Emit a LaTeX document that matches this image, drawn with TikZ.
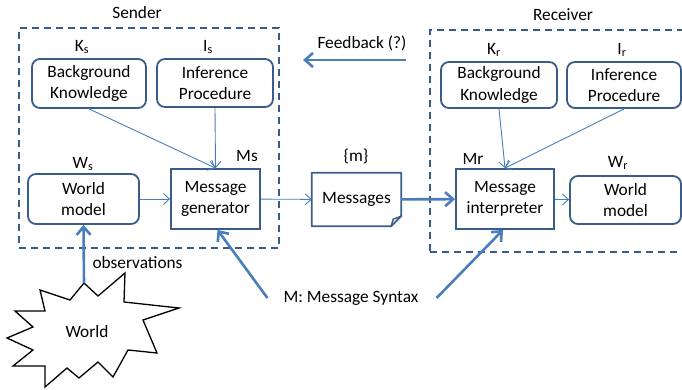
\documentclass[tikz,border=0pt]{standalone}
\usepackage{fontspec}
\setmainfont{Carlito}
\usetikzlibrary{arrows.meta}
\definecolor{boxblue}{RGB}{56,93,138}
\definecolor{linkblue}{RGB}{74,126,187}

\begin{document}
\begin{tikzpicture}[x=1pt,y=-1pt,
    font=\fontsize{17.3}{21.5}\selectfont,
    every node/.style={align=center, inner sep=0pt},
    soft/.style={draw=boxblue, line width=1.8pt, rounded corners=8pt},
    hard/.style={draw=boxblue, line width=1.8pt},
    frame/.style={draw=boxblue, line width=1.8pt, dash pattern=on 7pt off 5pt},
    link/.style={draw=linkblue, line width=0.9pt, -{Straight Barb[length=6pt,width=11pt]}},
    boldlink/.style={draw=linkblue, line width=2.6pt, -{Straight Barb[length=8pt,width=14pt]}}]
      \useasboundingbox (0,0) rectangle (682,390);

      \node[frame, minimum width=260pt, minimum height=220pt] (sendbox) at (149,138) {};
      \node[frame, minimum width=262pt, minimum height=222pt] (recvbox) at (561,141) {};
      \node (sender) at (137,13) {Sender};
      \node (receiver) at (563,15) {Receiver};

      \node[soft, minimum width=114pt, minimum height=49pt] (bks) at (89,83.5) {Background\\Knowledge};
      \node[soft, minimum width=116pt, minimum height=48pt] (ips) at (215,83) {Inference\\Procedure};
      \node[soft, minimum width=111pt, minimum height=50pt] (wms) at (83.5,199) {World\\model};
      \node[hard, minimum width=89pt, minimum height=60pt] (mgen) at (215.5,199) {Message\\generator};

      \node[minimum width=89pt, minimum height=53pt] (msgs) at (356.5,199.5) {Messages};
      \draw[boxblue, line width=1.8pt, line join=round] (msgs.north west) -- (msgs.north east)
        -- ([yshift=10pt]msgs.south east) -- ([xshift=-10pt]msgs.south east) -- (msgs.south west) -- cycle;
      \draw[boxblue, line width=1.5pt, line join=round] ([xshift=-10pt]msgs.south east)
        -- ([xshift=-8pt,yshift=7pt]msgs.south east) -- ([yshift=10pt]msgs.south east);

      \node[hard, minimum width=98pt, minimum height=60pt] (mint) at (505,199) {Message\\interpreter};
      \node[soft, minimum width=116pt, minimum height=46pt] (bkr) at (499,85) {Background\\Knowledge};
      \node[soft, minimum width=114pt, minimum height=46pt] (ipr) at (624,85) {Inference\\Procedure};
      \node[soft, minimum width=111pt, minimum height=48pt] (wmr) at (625.5,200) {World\\model};

      \node (ks) at (82,47) {K\textsubscript{s}};
      \node (is) at (208,47) {I\textsubscript{s}};
      \node (ws) at (83,164) {W\textsubscript{s}};
      \node (ms) at (247,156) {Ms};
      \node (m) at (356,156) {\{m\}};
      \node (mr) at (473,159) {Mr};
      \node (wr) at (618,163) {W\textsubscript{r}};
      \node (kr) at (494,50) {K\textsubscript{r}};
      \node (ir) at (622,50) {I\textsubscript{r}};

      \node (feedback) at (362,43) {Feedback (?)};
      \coordinate (fbstart) at (406,60);
      \coordinate (fbend) at (303,60);
      \draw[boldlink] (fbstart) -- (fbend);

      \draw[link] (bks.south) -- (mgen.north);
      \draw[link] (ips.south) -- (mgen.north);
      \draw[link] (wms) -- (mgen);
      \draw[link] (mgen) -- (msgs);
      \draw[boldlink] (msgs) -- (mint);
      \draw[link] (bkr.south) -- (mint.north);
      \draw[link] (ipr.south) -- (mint.north);
      \draw[link] (mint) -- (wmr);

      \draw[black, line width=1.3pt, line join=miter] (84,283) -- (98,296) -- (125,273) -- (124,302)
        -- (179,308) -- (143,320) -- (157,353) -- (128,350) -- (113,377) -- (98,362) -- (79,378)
        -- (67,368) -- (45,387) -- (45,366) -- (13,366) -- (33,350) -- (7,338) -- (33,327)
        -- (15,311) -- (45,311) -- (40,290) -- (70,300) -- cycle;
      \node (world) at (87,332) {World};
      \coordinate (startop) at (84,283);
      \draw[boldlink] (startop) -- (wms.south);
      \node (obs) at (137.5,263) {observations};

      \node (syntax) at (351,298) {M: Message Syntax};
      \draw[boldlink] ([xshift=-16pt]syntax.west) -- ([xshift=2pt]mgen.south);
      \draw[boldlink] ([xshift=18pt]syntax.east) -- ([xshift=-2pt]mint.south);
    \end{tikzpicture}
\end{document}
